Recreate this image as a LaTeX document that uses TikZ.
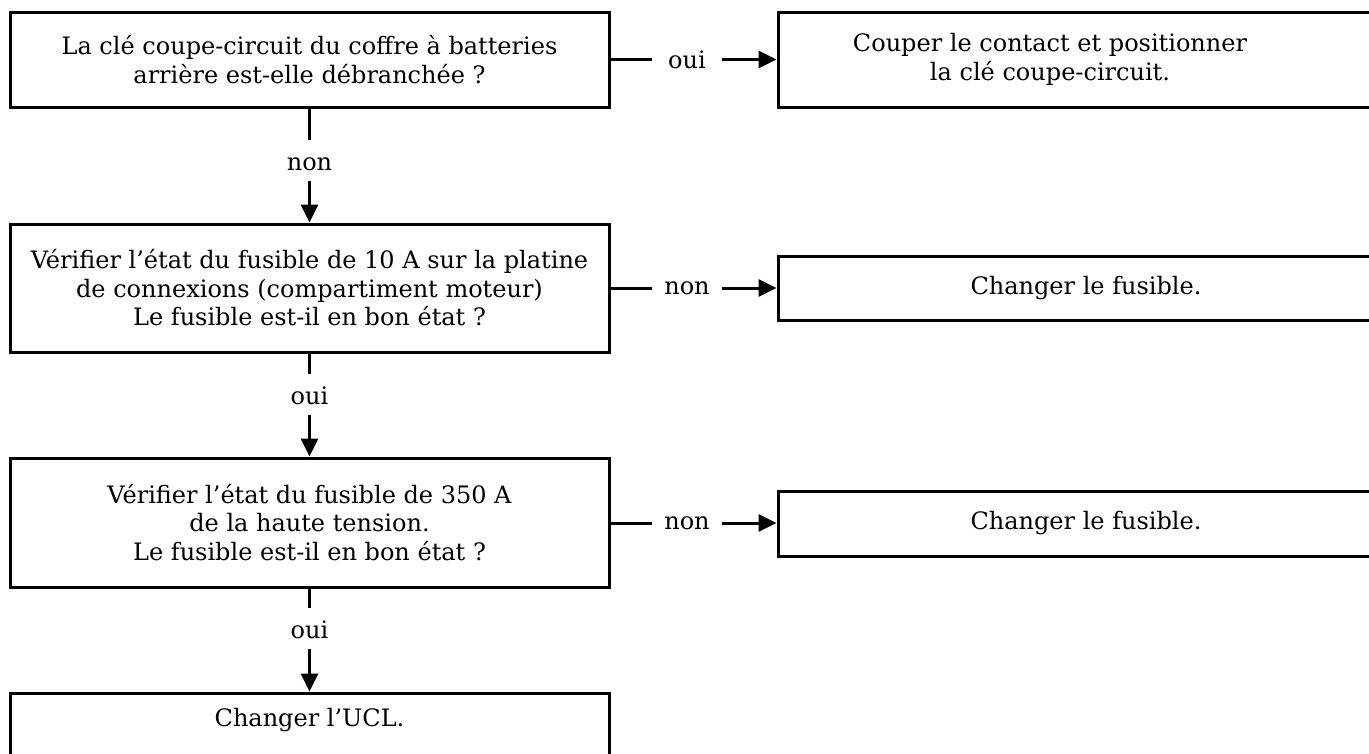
\documentclass[tikz,border=0pt]{standalone}
\usepackage{fontspec}
\setmainfont{DejaVu Serif}
\usetikzlibrary{arrows.meta}
\newcommand{\fs}{\fontsize{24}{28.5}\selectfont}
\begin{document}
\begin{tikzpicture}[x=1pt,y=-1pt,
  box/.style={draw,line width=3pt,inner sep=0pt,align=center,font=\fs},
  lbl/.style={inner sep=0pt,font=\fs},
  vlbl/.style={inner sep=0pt,font=\fs,text height=29.5pt,text depth=11pt,anchor=base},
  con/.style={line width=3pt},
  arr/.style={line width=3pt,-{Triangle[length=18pt,width=17pt]}}]
\useasboundingbox (0,0) rectangle (1369,753);
\clip (0,0) rectangle (1369,753);
% left column
\node[box,minimum width=599pt,minimum height=95pt] (b1) at (309.5,59.5)
  {La clé coupe-circuit du coffre à batteries\\arrière est-elle débranchée ?};
\node[box,minimum width=599pt,minimum height=128pt] (b2) at (309.5,288)
  {Vérifier l’état du fusible de 10 A sur la platine\\de connexions (compartiment moteur)\\Le fusible est-il en bon état ?};
\node[box,minimum width=599pt,minimum height=129pt] (b3) at (309.5,522.5)
  {Vérifier l’état du fusible de 350 A\\de la haute tension.\\Le fusible est-il en bon état ?};
\node[box,minimum width=599pt,minimum height=70pt,text depth=21pt] (b4) at (309.5,728)
  {Changer l’UCL.};
% right column
\node[draw,line width=3pt,minimum width=612pt,minimum height=95pt] (r1) at (1084,59.5) {};
\node[draw,line width=3pt,minimum width=612pt,minimum height=64pt] (r2) at (1084,288) {};
\node[draw,line width=3pt,minimum width=612pt,minimum height=65pt] (r3) at (1084,523.5) {};
\node[lbl,align=center] (t1) at (1050,59.5) {Couper le contact et positionner\\la clé coupe-circuit.};
\node[lbl] (t2) at (1086,288) {Changer le fusible.};
\node[lbl] (t3) at (1086,523.5) {Changer le fusible.};
% horizontal connectors
\node[lbl,minimum width=70pt] (h1) at (687,59.5) {oui};
\node[lbl,minimum width=70pt] (h2) at (687,288) {non};
\node[lbl,minimum width=70pt] (h3) at (687,523) {non};
\draw[con] (b1.east) -- (h1.west);
\draw[arr] (h1.east) -- (h1.east -| r1.west);
\draw[con] (b2.east) -- (h2.west);
\draw[arr] (h2.east) -- (h2.east -| r2.west);
\draw[con] (h3.west -| b3.east) -- (h3.west);
\draw[arr] (h3.east) -- (h3.east -| r3.west);
% vertical connectors
\node[vlbl] (v1) at (309.5,170) {non};
\node[vlbl] (v2) at (309.5,404) {oui};
\node[vlbl] (v3) at (309.5,638) {oui};
\draw[con] (b1.south) -- (v1.north);
\draw[arr] (v1.south) -- (b2.north);
\draw[con] (b2.south) -- (v2.north);
\draw[arr] (v2.south) -- (b3.north);
\draw[con] (b3.south) -- (v3.north);
\draw[arr] (v3.south) -- (b4.north);
\end{tikzpicture}
\end{document}
